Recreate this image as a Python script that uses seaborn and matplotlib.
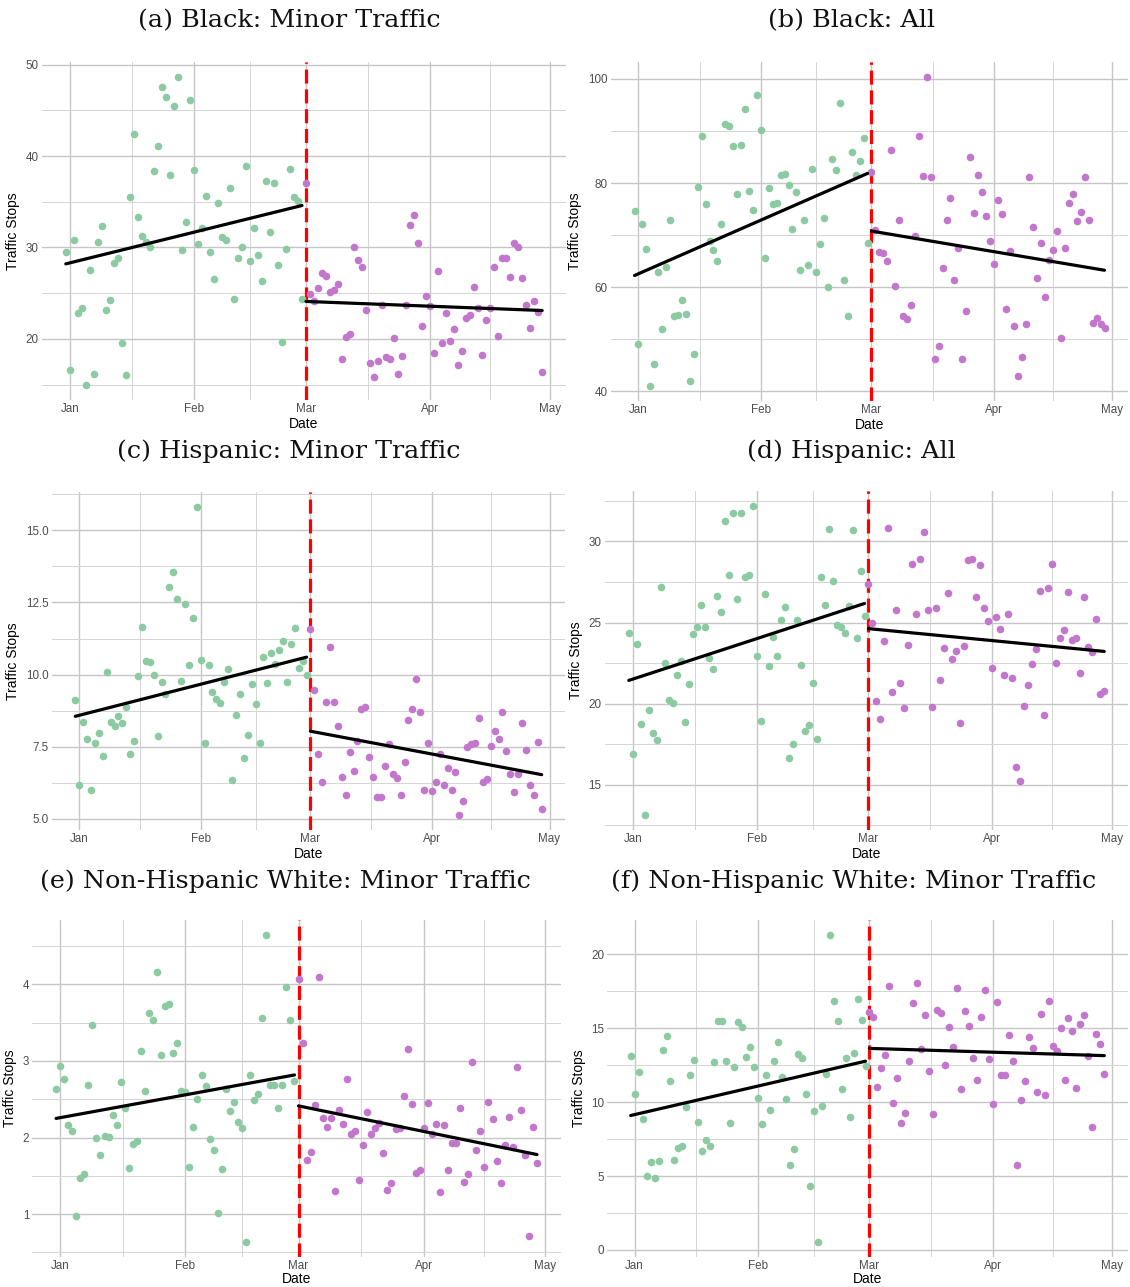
import numpy as np
import pandas as pd
import matplotlib
matplotlib.use("Agg")
import matplotlib.pyplot as plt
from matplotlib.ticker import MultipleLocator, FixedLocator, FormatStrFormatter
import seaborn as sns

# ---------------- data ----------------
dates = pd.date_range("2018-12-31", periods=120, freq="D")
cutoff = pd.Timestamp("2019-03-01")

month_ticks = ["2019-01-01", "2019-02-01", "2019-03-01", "2019-04-01", "2019-05-01"]
month_labels = ["Jan", "Feb", "Mar", "Apr", "May"]
mid_ticks = ["2019-01-16 12:00", "2019-02-15", "2019-03-16 12:00", "2019-04-16"]

titles = ["(a) Black: Minor Traffic", "(b) Black: All",
          "(c) Hispanic: Minor Traffic", "(d) Hispanic: All",
          "(e) Non-Hispanic White: Minor Traffic", "(f) Non-Hispanic White: Minor Traffic"]

black_minor = [29.5, 16.65, 30.8, 22.8, 23.4, 15.0, 27.5, 16.2, 30.6, 32.4, 23.2, 24.3, 28.3, 28.9, 19.5, 16.1,
               35.5, 42.4, 33.3, 31.2, 30.6, 30.0, 38.4, 41.1, 47.6, 46.5, 37.9, 45.5, 48.6, 29.7, 32.8, 46.1,
               38.5, 30.4, 32.1, 35.6, 29.5, 26.5, 34.9, 31.1, 30.8, 36.5, 24.4, 28.8, 30.1, 38.9, 28.5, 32.1,
               29.2, 26.3, 37.3, 31.7, 37.1, 28.1, 19.7, 29.8, 38.6, 35.5, 35.1, 24.4,
               37.05, 24.95, 24.1, 25.6, 27.2, 26.9, 25.1, 25.35, 26.0, 17.8, 20.2, 20.5, 30.1, 28.6, 27.9, 23.2,
               17.35, 15.8, 17.6, 23.7, 18.0, 17.85, 20.1, 16.2, 18.1, 23.7, 32.5, 33.6, 30.5, 21.4, 24.7, 23.6,
               18.5, 27.4, 19.5, 22.8, 19.75, 21.1, 17.2, 18.7, 22.3, 22.65, 25.7, 23.4, 18.2, 22.1, 23.35, 27.85,
               20.3, 28.8, 28.9, 26.8, 30.5, 30.1, 26.65, 23.7, 21.2, 24.1, 22.9, 16.4]

black_all = [74.7, 49.0, 72.1, 67.4, 41.1, 45.3, 62.9, 52.0, 63.9, 73.0, 54.5, 54.7, 57.5, 54.8, 41.9, 47.2,
             79.3, 89.1, 75.9, 68.9, 67.2, 65.0, 72.1, 91.4, 91.0, 87.1, 77.9, 87.3, 94.2, 78.5, 74.9, 97.0,
             90.2, 65.7, 79.0, 75.9, 76.2, 81.5, 81.8, 79.6, 71.1, 78.3, 63.3, 73.0, 64.3, 82.7, 62.9, 68.3,
             73.3, 60.0, 84.7, 82.6, 95.3, 61.3, 54.5, 85.9, 81.6, 84.3, 88.6, 68.5,
             82.2, 71.0, 66.8, 66.6, 65.0, 86.4, 60.2, 73.0, 54.5, 53.8, 56.5, 69.8, 89.1, 81.3, 100.3, 81.2,
             46.2, 48.8, 63.6, 73.0, 77.2, 61.4, 67.5, 46.2, 55.5, 85.0, 74.3, 81.5, 78.3, 73.7, 68.8, 64.5,
             76.8, 74.0, 55.9, 66.9, 52.6, 43.0, 46.6, 53.0, 81.1, 71.5, 61.8, 68.4, 58.1, 65.3, 67.1, 70.8,
             50.2, 67.5, 76.2, 77.9, 72.8, 74.4, 81.1, 72.9, 53.1, 54.0, 52.9, 52.1]

hisp_minor = [9.11, 6.18, 8.35, 7.78, 6.0, 7.62, 7.97, 7.16, 10.10, 8.37, 8.22, 8.57, 8.33, 8.89, 7.26, 7.69,
              9.95, 11.64, 10.48, 10.42, 9.99, 7.88, 9.75, 9.34, 13.03, 13.56, 12.62, 9.77, 12.46, 10.32, 11.96, 15.80,
              10.52, 7.62, 10.33, 9.41, 9.15, 9.03, 9.75, 10.18, 6.35, 8.58, 9.34, 7.12, 7.91, 9.68, 8.97, 7.61,
              10.60, 9.69, 10.76, 10.36, 10.85, 11.18, 9.75, 11.06, 11.62, 10.21, 10.47, 9.97,
              11.58, 9.48, 7.26, 6.27, 9.06, 10.97, 9.06, 8.22, 6.45, 5.83, 7.33, 6.64, 7.70, 8.79, 8.87, 7.15,
              6.45, 5.75, 5.75, 6.81, 7.58, 6.56, 6.41, 5.82, 6.95, 8.42, 8.81, 9.84, 8.71, 5.98, 7.64, 5.95,
              6.27, 7.26, 6.17, 6.76, 5.99, 6.62, 5.14, 5.61, 7.47, 7.60, 7.61, 8.49, 6.27, 6.39, 7.53, 8.05,
              7.77, 8.71, 7.34, 6.54, 5.92, 6.56, 8.31, 7.39, 6.18, 5.81, 7.66, 5.34]

hisp_all = [24.35, 16.89, 23.71, 18.74, 13.17, 19.60, 18.21, 17.75, 27.19, 22.50, 20.22, 20.06, 21.76, 22.62, 18.86, 21.21,
            24.27, 24.70, 26.08, 24.70, 22.79, 22.15, 26.63, 25.64, 31.29, 27.95, 31.77, 26.47, 31.77, 27.78, 27.95, 32.16,
            22.95, 18.95, 26.75, 22.34, 24.14, 22.93, 25.13, 25.95, 16.64, 17.51, 25.19, 22.40, 18.31, 18.72, 21.27, 17.82,
            27.80, 26.10, 30.76, 27.55, 24.86, 24.74, 24.33, 26.03, 30.72, 24.08, 28.21, 25.40,
            27.39, 24.95, 20.18, 19.09, 23.88, 30.84, 20.75, 25.75, 21.29, 19.75, 23.63, 28.60, 25.54, 28.91, 30.60, 25.75,
            19.81, 25.87, 21.45, 23.43, 26.84, 22.75, 23.26, 18.80, 23.57, 28.85, 28.93, 26.59, 28.54, 25.87, 25.09, 22.23,
            25.34, 24.60, 21.80, 25.56, 21.56, 16.09, 15.25, 19.87, 21.16, 22.46, 23.38, 26.96, 19.32, 27.12, 28.60, 22.54,
            24.06, 24.55, 26.90, 23.92, 24.06, 21.88, 26.57, 23.51, 23.16, 25.23, 20.57, 20.77]

white_minor = [2.64, 2.94, 2.76, 2.16, 2.09, 0.98, 1.47, 1.52, 2.69, 3.47, 1.99, 1.77, 2.02, 2.01, 2.30, 2.16,
               2.72, 2.38, 1.60, 1.92, 1.95, 3.13, 2.61, 3.62, 3.53, 4.16, 3.08, 3.72, 3.74, 3.11, 3.23, 2.61,
               2.60, 1.61, 2.14, 2.50, 2.82, 2.67, 1.98, 1.84, 1.02, 1.59, 2.63, 2.34, 2.47, 2.20, 2.12, 0.64,
               2.81, 2.49, 2.57, 3.56, 4.64, 2.69, 2.69, 2.38, 2.68, 3.96, 3.53, 2.74,
               4.07, 3.23, 1.71, 1.81, 2.42, 4.10, 2.26, 2.14, 2.25, 1.30, 2.36, 2.17, 2.76, 2.05, 2.09, 1.45,
               1.90, 2.33, 2.05, 2.13, 2.19, 1.80, 1.31, 1.41, 2.11, 2.13, 2.54, 3.15, 2.44, 1.54, 1.57, 2.13,
               2.45, 2.04, 2.18, 1.29, 2.16, 1.57, 1.93, 1.93, 2.38, 1.42, 1.53, 2.99, 1.84, 2.09, 1.61, 2.46,
               2.24, 1.69, 1.41, 1.90, 2.27, 1.87, 2.92, 2.36, 1.77, 0.71, 2.14, 1.67]

white_minor_f = [13.12, 10.56, 12.06, 8.88, 5.0, 5.94, 4.87, 6.01, 13.50, 14.48, 11.41, 6.10, 6.91, 7.02, 9.66, 11.84,
                 12.83, 8.68, 6.66, 7.44, 7.04, 12.69, 15.49, 15.49, 12.78, 8.57, 12.35, 15.43, 15.07, 13.03, 13.74, 12.38,
                 10.29, 8.50, 11.86, 9.46, 12.78, 14.04, 11.73, 10.18, 5.76, 6.82, 13.23, 12.96, 10.58, 4.30, 9.37, 0.56,
                 9.71, 11.88, 21.28, 16.84, 15.49, 10.90, 13.00, 8.97, 13.34, 16.97, 15.52, 12.47,
                 16.08, 15.78, 10.99, 12.31, 13.18, 17.85, 9.91, 11.61, 8.61, 9.24, 12.76, 16.73, 18.07, 13.59, 15.87, 12.11,
                 9.19, 16.21, 16.03, 12.53, 15.07, 13.72, 17.74, 10.87, 16.14, 15.13, 12.98, 11.50, 15.74, 17.58, 12.91, 9.84,
                 16.75, 11.86, 11.84, 14.55, 12.78, 5.76, 10.13, 11.43, 14.37, 13.63, 10.70, 15.96, 10.45, 16.86, 13.81, 13.45,
                 15.04, 11.52, 15.67, 14.78, 10.96, 15.31, 15.87, 13.09, 8.34, 14.62, 13.95, 11.93]

series = [black_minor, black_all, hisp_minor, hisp_all, white_minor, white_minor_f]

# major / minor y-grid spacing and label format for each panel
y_major = [10, 20, 2.5, 5, 1, 5]
y_minor = [5, 10, 1.25, 2.5, 0.5, 2.5]
y_fmt = ["%d", "%d", "%.1f", "%d", "%d", "%d"]

# axes boxes in pixels: left, top, right, bottom
boxes = [(42, 62, 566, 400), (611, 62, 1128, 401),
         (52, 492, 565, 830), (605, 491, 1128, 830),
         (32, 920, 561, 1257), (607, 920, 1128, 1257)]
title_pos = [(289, 21), (851, 21), (289, 451), (851, 451), (285, 881), (854, 881)]

# ---------------- plotting ----------------
sns.set_theme(style="white")
plt.rcParams["font.family"] = ["Liberation Sans", "DejaVu Sans"]

W, H = 1130, 1287
fig = plt.figure(figsize=(W / 100, H / 100), dpi=100)

origin = pd.Timestamp("2019-01-01")
day = np.asarray((dates - origin).days, dtype=float)
is_pre = np.asarray(dates < cutoff)
cut_day = (cutoff - origin).days
to_day = lambda lst: [(pd.Timestamp(d) - origin) / pd.Timedelta(days=1) for d in lst]

green = "#8ccba1"
purple = "#c277cd"
grid_major = "#c6c6c6"
grid_minor = "#d4d4d4"

for i, vals in enumerate(series):
    l, t, r, b = boxes[i]
    ax = fig.add_axes([l / W, 1 - b / H, (r - l) / W, (b - t) / H])
    df = pd.DataFrame({"day": day, "stops": vals, "pre": is_pre})
    pre_df = df[df["pre"]]
    post_df = df[~df["pre"]]

    ax.axvline(cut_day, color="red", lw=2.3, ls=(0, (4.4, 1.8)), zorder=2)
    sns.scatterplot(data=pre_df, x="day", y="stops", color=green, s=30,
                    linewidth=0, ax=ax, zorder=3)
    sns.scatterplot(data=post_df, x="day", y="stops", color=purple, s=30,
                    linewidth=0, ax=ax, zorder=3)
    for part in (pre_df, post_df):
        sns.regplot(data=part, x="day", y="stops", scatter=False, ci=None,
                    color="black", line_kws={"lw": 2.3, "zorder": 4}, ax=ax)

    ax.margins(x=0.05, y=0.05)
    ax.xaxis.set_major_locator(FixedLocator(to_day(month_ticks)))
    ax.set_xticklabels(month_labels)
    ax.xaxis.set_minor_locator(FixedLocator(to_day(mid_ticks)))
    ax.yaxis.set_major_locator(MultipleLocator(y_major[i]))
    ax.yaxis.set_minor_locator(MultipleLocator(y_minor[i]))
    ax.yaxis.set_major_formatter(FormatStrFormatter(y_fmt[i]))

    ax.set_axisbelow(True)
    ax.grid(which="major", color=grid_major, lw=1.0)
    ax.grid(which="minor", color=grid_minor, lw=0.7)
    for s in ax.spines.values():
        s.set_visible(False)
    bottom_row = i >= 4
    ax.tick_params(which="both", length=0, labelsize=8.4, labelcolor="#4d4d4d",
                   pad=2.0 if bottom_row else 2.5)
    ax.set_xlabel("Date", fontsize=10, color="black", labelpad=0 if bottom_row else 1)
    ax.set_ylabel("Traffic Stops", fontsize=10, color="black", labelpad=4)

    tx, ty = title_pos[i]
    fig.text(tx / W, 1 - ty / H, titles[i], ha="center", va="center",
             fontsize=18.3, family="DejaVu Serif", color="#111111")

fig.savefig("out.png", dpi=100)
